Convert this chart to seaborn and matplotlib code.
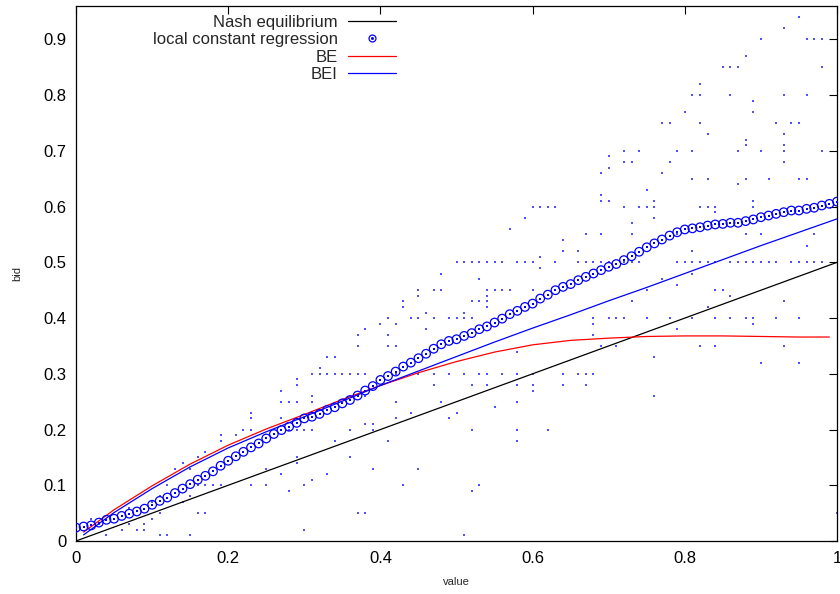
import matplotlib
matplotlib.use("Agg")
import matplotlib.pyplot as plt
from matplotlib.lines import Line2D
import seaborn as sns
import numpy as np

sns.set_theme(style="white")
plt.rcParams['font.family'] = ['Liberation Sans', 'DejaVu Sans']

# Nash equilibrium (bid = value / 2)
nash_value = [0.0, 1.0]
nash_bid = [0.0, 0.5]

# BE curve
be_value = [0.01, 0.05, 0.10, 0.15, 0.20, 0.25, 0.30, 0.35, 0.40, 0.45, 0.50,
            0.55, 0.60, 0.65, 0.70, 0.75, 0.80, 0.85, 0.90, 0.95, 0.99]
be_bid = [0.016, 0.056, 0.099, 0.138, 0.172, 0.201, 0.227, 0.254, 0.279, 0.302, 0.322,
          0.339, 0.352, 0.360, 0.364, 0.367, 0.368, 0.368, 0.367, 0.366, 0.366]

# BEI curve
bei_value = [0.01, 0.05, 0.10, 0.15, 0.20, 0.25, 0.30, 0.35, 0.40, 0.45, 0.50,
             0.55, 0.60, 0.65, 0.70, 0.75, 0.80, 0.85, 0.90, 0.95, 1.00]
bei_bid = [0.011, 0.051, 0.094, 0.133, 0.167, 0.196, 0.223, 0.251, 0.279, 0.305, 0.331,
           0.357, 0.382, 0.406, 0.431, 0.455, 0.480, 0.505, 0.530, 0.554, 0.578]

# local constant regression
reg_value = list(np.round(np.linspace(0.0, 1.0, 101), 2))
reg_bid = [0.024, 0.026, 0.028, 0.033, 0.038, 0.040, 0.045, 0.049, 0.053, 0.058,
           0.065, 0.072, 0.078, 0.086, 0.094, 0.102, 0.110, 0.117, 0.125, 0.135,
           0.144, 0.152, 0.160, 0.168, 0.175, 0.184, 0.192, 0.199, 0.205, 0.212,
           0.220, 0.223, 0.228, 0.235, 0.240, 0.247, 0.253, 0.261, 0.270, 0.278,
           0.289, 0.296, 0.304, 0.313, 0.320, 0.328, 0.336, 0.345, 0.353, 0.359,
           0.362, 0.368, 0.373, 0.380, 0.385, 0.392, 0.399, 0.407, 0.413, 0.420,
           0.426, 0.435, 0.442, 0.450, 0.456, 0.461, 0.468, 0.474, 0.480, 0.486,
           0.492, 0.497, 0.504, 0.511, 0.519, 0.527, 0.534, 0.541, 0.548, 0.554,
           0.559, 0.561, 0.563, 0.566, 0.568, 0.569, 0.571, 0.571, 0.574, 0.577,
           0.581, 0.584, 0.587, 0.590, 0.593, 0.593, 0.596, 0.598, 0.602, 0.605,
           0.609]

# observed bids (value, bid)
obs_points = [
    (0.98, 0.96), (0.95, 0.94), (0.93, 0.92),
    (0.90, 0.90), (0.96, 0.90), (0.97, 0.90), (0.98, 0.90),
    (0.88, 0.87),
    (0.85, 0.85), (0.86, 0.85), (0.87, 0.85), (0.98, 0.85),
    (0.82, 0.82),
    (0.81, 0.80), (0.82, 0.80), (0.86, 0.80), (0.93, 0.80), (0.96, 0.80),
    (0.89, 0.79), (0.80, 0.77), (0.89, 0.77),
    (0.77, 0.75), (0.78, 0.75), (0.82, 0.75), (0.92, 0.75), (0.94, 0.75), (0.95, 0.75),
    (0.83, 0.73), (0.93, 0.73), (0.88, 0.72), (0.88, 0.71), (0.93, 0.71),
    (0.72, 0.70), (0.74, 0.70), (0.79, 0.70), (0.81, 0.70), (0.87, 0.70), (0.90, 0.70),
    (0.93, 0.70), (0.98, 0.70),
    (0.70, 0.69),
    (0.72, 0.68), (0.73, 0.68), (0.78, 0.68), (0.93, 0.68),
    (0.70, 0.67), (0.69, 0.66), (0.77, 0.66),
    (0.81, 0.65), (0.83, 0.65), (0.88, 0.65), (0.91, 0.65), (0.95, 0.65), (0.96, 0.65),
    (0.87, 0.64), (0.75, 0.63), (0.69, 0.62),
    (0.69, 0.61), (0.70, 0.61), (0.76, 0.61), (0.89, 0.61),
    (0.60, 0.60), (0.61, 0.60), (0.62, 0.60), (0.63, 0.60), (0.72, 0.60), (0.74, 0.60),
    (0.75, 0.60), (0.76, 0.60), (0.82, 0.60), (0.83, 0.60), (0.84, 0.60), (0.89, 0.60),
    (0.84, 0.59), (0.59, 0.58), (0.76, 0.58), (0.73, 0.57), (0.57, 0.56),
    (0.67, 0.55), (0.69, 0.55), (0.73, 0.55), (0.79, 0.55), (0.88, 0.55), (0.90, 0.55),
    (0.97, 0.55),
    (0.64, 0.54), (0.96, 0.53), (0.64, 0.52), (0.66, 0.52), (0.81, 0.52), (0.61, 0.51),
    (0.50, 0.50), (0.51, 0.50), (0.52, 0.50), (0.53, 0.50), (0.54, 0.50), (0.55, 0.50),
    (0.56, 0.50), (0.58, 0.50), (0.59, 0.50), (0.60, 0.50), (0.63, 0.50), (0.66, 0.50),
    (0.67, 0.50), (0.68, 0.50), (0.69, 0.50), (0.70, 0.50), (0.72, 0.50), (0.73, 0.50),
    (0.74, 0.50), (0.79, 0.50), (0.80, 0.50), (0.81, 0.50), (0.82, 0.50), (0.83, 0.50),
    (0.84, 0.50), (0.86, 0.50), (0.87, 0.50), (0.88, 0.50), (0.89, 0.50), (0.90, 0.50),
    (0.91, 0.50), (0.92, 0.50), (0.94, 0.50), (0.95, 0.50), (0.96, 0.50), (0.97, 0.50),
    (0.98, 0.50),
    (0.61, 0.49), (0.48, 0.48), (0.81, 0.48), (0.53, 0.47), (0.77, 0.47), (0.79, 0.46),
    (0.45, 0.45), (0.47, 0.45), (0.48, 0.45), (0.54, 0.45), (0.55, 0.45), (0.56, 0.45),
    (0.57, 0.45), (0.60, 0.45), (0.75, 0.45), (0.84, 0.45), (0.85, 0.45),
    (0.45, 0.44), (0.54, 0.44), (0.86, 0.44),
    (0.43, 0.43), (0.52, 0.43), (0.53, 0.43), (0.54, 0.43), (0.73, 0.43), (0.93, 0.43),
    (0.43, 0.42), (0.54, 0.42), (0.83, 0.42), (0.46, 0.41), (0.51, 0.41),
    (0.41, 0.40), (0.44, 0.40), (0.45, 0.40), (0.47, 0.40), (0.49, 0.40), (0.50, 0.40),
    (0.51, 0.40), (0.52, 0.40), (0.68, 0.40), (0.70, 0.40), (0.71, 0.40), (0.72, 0.40),
    (0.75, 0.40), (0.78, 0.40), (0.81, 0.40), (0.84, 0.40), (0.86, 0.40), (0.88, 0.40),
    (0.89, 0.40), (0.92, 0.40), (0.95, 0.40),
    (0.40, 0.39), (0.42, 0.39), (0.68, 0.39), (0.89, 0.39),
    (0.38, 0.38), (0.46, 0.38), (0.79, 0.38), (0.37, 0.37), (0.41, 0.37), (0.68, 0.37),
    (0.37, 0.35), (0.41, 0.35), (0.42, 0.35), (0.69, 0.35), (0.71, 0.35), (0.82, 0.35),
    (0.84, 0.35), (0.93, 0.35),
    (0.58, 0.34), (0.33, 0.33), (0.34, 0.33), (0.76, 0.33), (0.90, 0.32), (0.95, 0.32),
    (0.32, 0.31),
    (0.31, 0.30), (0.32, 0.30), (0.33, 0.30), (0.34, 0.30), (0.35, 0.30), (0.36, 0.30),
    (0.37, 0.30), (0.38, 0.30), (0.42, 0.30), (0.45, 0.30), (0.47, 0.30), (0.49, 0.30),
    (0.51, 0.30), (0.53, 0.30), (0.54, 0.30), (0.56, 0.30), (0.58, 0.30), (0.60, 0.30),
    (0.64, 0.30), (0.66, 0.30), (0.67, 0.30), (0.68, 0.30),
    (0.29, 0.29),
    (0.29, 0.28), (0.47, 0.28), (0.52, 0.28), (0.54, 0.28), (0.58, 0.28), (0.60, 0.28),
    (0.64, 0.28), (0.67, 0.28),
    (0.27, 0.27), (0.60, 0.27), (0.31, 0.26), (0.38, 0.26), (0.76, 0.26),
    (0.27, 0.25), (0.28, 0.25), (0.29, 0.25), (0.31, 0.25), (0.42, 0.25), (0.48, 0.25),
    (0.58, 0.25),
    (0.55, 0.24), (0.23, 0.23), (0.44, 0.23), (0.50, 0.23),
    (0.23, 0.22), (0.27, 0.22), (0.42, 0.22), (0.49, 0.22), (0.38, 0.21), (0.39, 0.21),
    (0.22, 0.20), (0.23, 0.20), (0.28, 0.20), (0.29, 0.20), (0.30, 0.20), (0.31, 0.20),
    (0.36, 0.20), (0.39, 0.20), (0.52, 0.20), (0.58, 0.20), (0.62, 0.20),
    (0.19, 0.19), (0.21, 0.19), (0.19, 0.18), (0.34, 0.18), (0.41, 0.18), (0.58, 0.18),
    (0.17, 0.16), (0.16, 0.15), (0.29, 0.15), (0.36, 0.15), (0.14, 0.14), (0.29, 0.14),
    (0.13, 0.13), (0.15, 0.13), (0.25, 0.13), (0.39, 0.13), (0.45, 0.13),
    (0.27, 0.12), (0.33, 0.12), (0.31, 0.11),
    (0.12, 0.10), (0.16, 0.10), (0.17, 0.10), (0.18, 0.10), (0.19, 0.10), (0.23, 0.10),
    (0.25, 0.10), (0.30, 0.10), (0.43, 0.10), (0.53, 0.10),
    (0.28, 0.09), (0.52, 0.09), (0.11, 0.08), (0.15, 0.08), (0.10, 0.07), (0.14, 0.07),
    (0.07, 0.06),
    (0.11, 0.05), (0.16, 0.05), (0.17, 0.05), (0.37, 0.05), (0.38, 0.05), (1.00, 0.05),
    (0.02, 0.04), (0.10, 0.04), (0.03, 0.03), (0.07, 0.03), (0.09, 0.03),
    (0.06, 0.02), (0.08, 0.02), (0.09, 0.02), (0.30, 0.02),
    (0.04, 0.01), (0.11, 0.01), (0.12, 0.01), (0.15, 0.01), (0.51, 0.01),
]
obs_value = [p[0] for p in obs_points]
obs_bid = [p[1] for p in obs_points]

x_ticks = [0, 0.2, 0.4, 0.6, 0.8, 1.0]
x_tick_labels = ["0", "0.2", "0.4", "0.6", "0.8", "1"]
y_ticks = [0, 0.1, 0.2, 0.3, 0.4, 0.5, 0.6, 0.7, 0.8, 0.9]
y_tick_labels = ["0", "0.1", "0.2", "0.3", "0.4", "0.5", "0.6", "0.7", "0.8", "0.9"]

fig = plt.figure(figsize=(8.4, 5.94), dpi=100)
ax = fig.add_axes([76 / 840, 53 / 594, 761 / 840, 535 / 594])
ax.set_facecolor("white")

# observations as tiny dots
sns.scatterplot(x=obs_value, y=obs_bid, ax=ax, marker="s", s=2.5, color="#5050ff",
                linewidth=0, legend=False, zorder=1)

sns.lineplot(x=nash_value, y=nash_bid, ax=ax, color="black", linewidth=0.9,
             label="Nash equilibrium", zorder=3)
ax.scatter(reg_value, reg_bid, s=38, marker="o", facecolors="none",
           edgecolors="blue", linewidths=0.9, zorder=4)
sns.scatterplot(x=reg_value, y=reg_bid, ax=ax, marker="s", s=1.5, color="blue",
                linewidth=0, legend=False, zorder=4)
sns.lineplot(x=be_value, y=be_bid, ax=ax, color="red", linewidth=0.9, label="BE", zorder=3)
sns.lineplot(x=bei_value, y=bei_bid, ax=ax, color="blue", linewidth=0.9, label="BEI", zorder=3)

ax.set_xlim(0, 1)
ax.set_ylim(0, 0.96)
ax.set_xticks(x_ticks)
ax.set_xticklabels(x_tick_labels)
ax.set_yticks(y_ticks)
ax.set_yticklabels(y_tick_labels)
ax.tick_params(direction="in", length=6, width=0.8, top=True, right=True,
               labelsize=12, pad=7, colors="black")
for s in ax.spines.values():
    s.set_visible(True)
    s.set_color("black")
    s.set_linewidth(0.9)

ax.set_xlabel("value", fontsize=8, labelpad=8)
ax.set_ylabel("bid", fontsize=8, labelpad=15)

handles, labels = ax.get_legend_handles_labels()
hmap = dict(zip(labels, handles))
reg_handle = Line2D([], [], marker="o", markersize=5, markerfacecolor="none",
                    markeredgecolor="blue", markeredgewidth=0.9, linestyle="none")
reg_dot = Line2D([], [], marker="s", markersize=1, color="blue", linestyle="none")
order = ["Nash equilibrium", "local constant regression", "BE", "BEI"]
hl = [hmap["Nash equilibrium"], (reg_handle, reg_dot), hmap["BE"], hmap["BEI"]]
ax.legend(hl, order, loc="upper right", bbox_to_anchor=(320 / 761, 0.984),
          markerfirst=False, frameon=False, fontsize=12, handlelength=2.9,
          handletextpad=0.6, labelspacing=0.15, borderpad=0, borderaxespad=0)

fig.savefig("out.png", dpi=100)
